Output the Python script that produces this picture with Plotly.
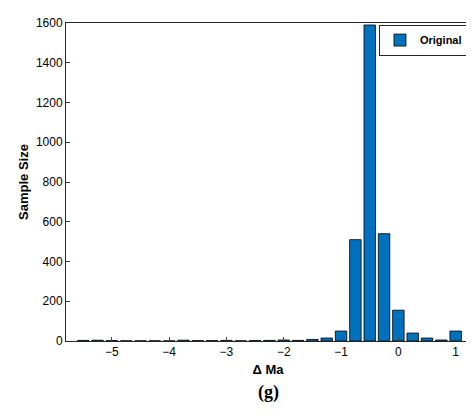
import plotly.graph_objects as go

# bin centres (step 0.25) and counts
delta_ma = [-5.5 + 0.25 * i for i in range(27)]
counts = [3, 4, 2, 1, 1, 1, 1, 4, 2, 2, 3, 1, 2, 3, 5, 3, 8, 15, 50,
          510, 1590, 540, 155, 40, 15, 5, 50]

fig = go.Figure()
fig.add_trace(go.Bar(x=delta_ma, y=counts, name="<b>Original</b>", width=0.2,
                     marker=dict(color="#0072BD", line=dict(color="black", width=0.8)),
                     showlegend=True))

axis = dict(showline=True, linecolor="#262626", mirror=True, ticks="inside",
            ticklen=4, showgrid=False, zeroline=False,
            tickfont=dict(family="Arial", size=12, color="black"))
fig.update_layout(
    width=474, height=417, plot_bgcolor="white", paper_bgcolor="white",
    margin=dict(l=58, r=12, t=8, b=84),
    font=dict(color="black"),
    xaxis=dict(axis, range=[-5.8, 1.25], tickvals=[-5, -4, -3, -2, -1, 0, 1],
               ticktext=["\u22125", "\u22124", "\u22123", "\u22122", "\u22121", "0", "1"],
               title=dict(text="<b>\u0394 Ma</b>", font=dict(family="Arial", size=13, color="black"), standoff=6)),
    yaxis=dict(axis, range=[0, 1600], dtick=200,
               title=dict(text="<b>Sample Size</b>", font=dict(family="Arial", size=13, color="black"), standoff=4)),
    legend=dict(x=0.995, y=0.995, xanchor="right", yanchor="top", bordercolor="#262626",
                borderwidth=1, font=dict(family="Arial", size=11, color="black")),
    showlegend=True,
)
fig.add_annotation(text="<b>(g)</b>", xref="paper", yref="paper", x=0.5, y=-0.2,
                   showarrow=False, font=dict(family="Times New Roman", size=18, color="black"))
fig.write_html("out.html")
